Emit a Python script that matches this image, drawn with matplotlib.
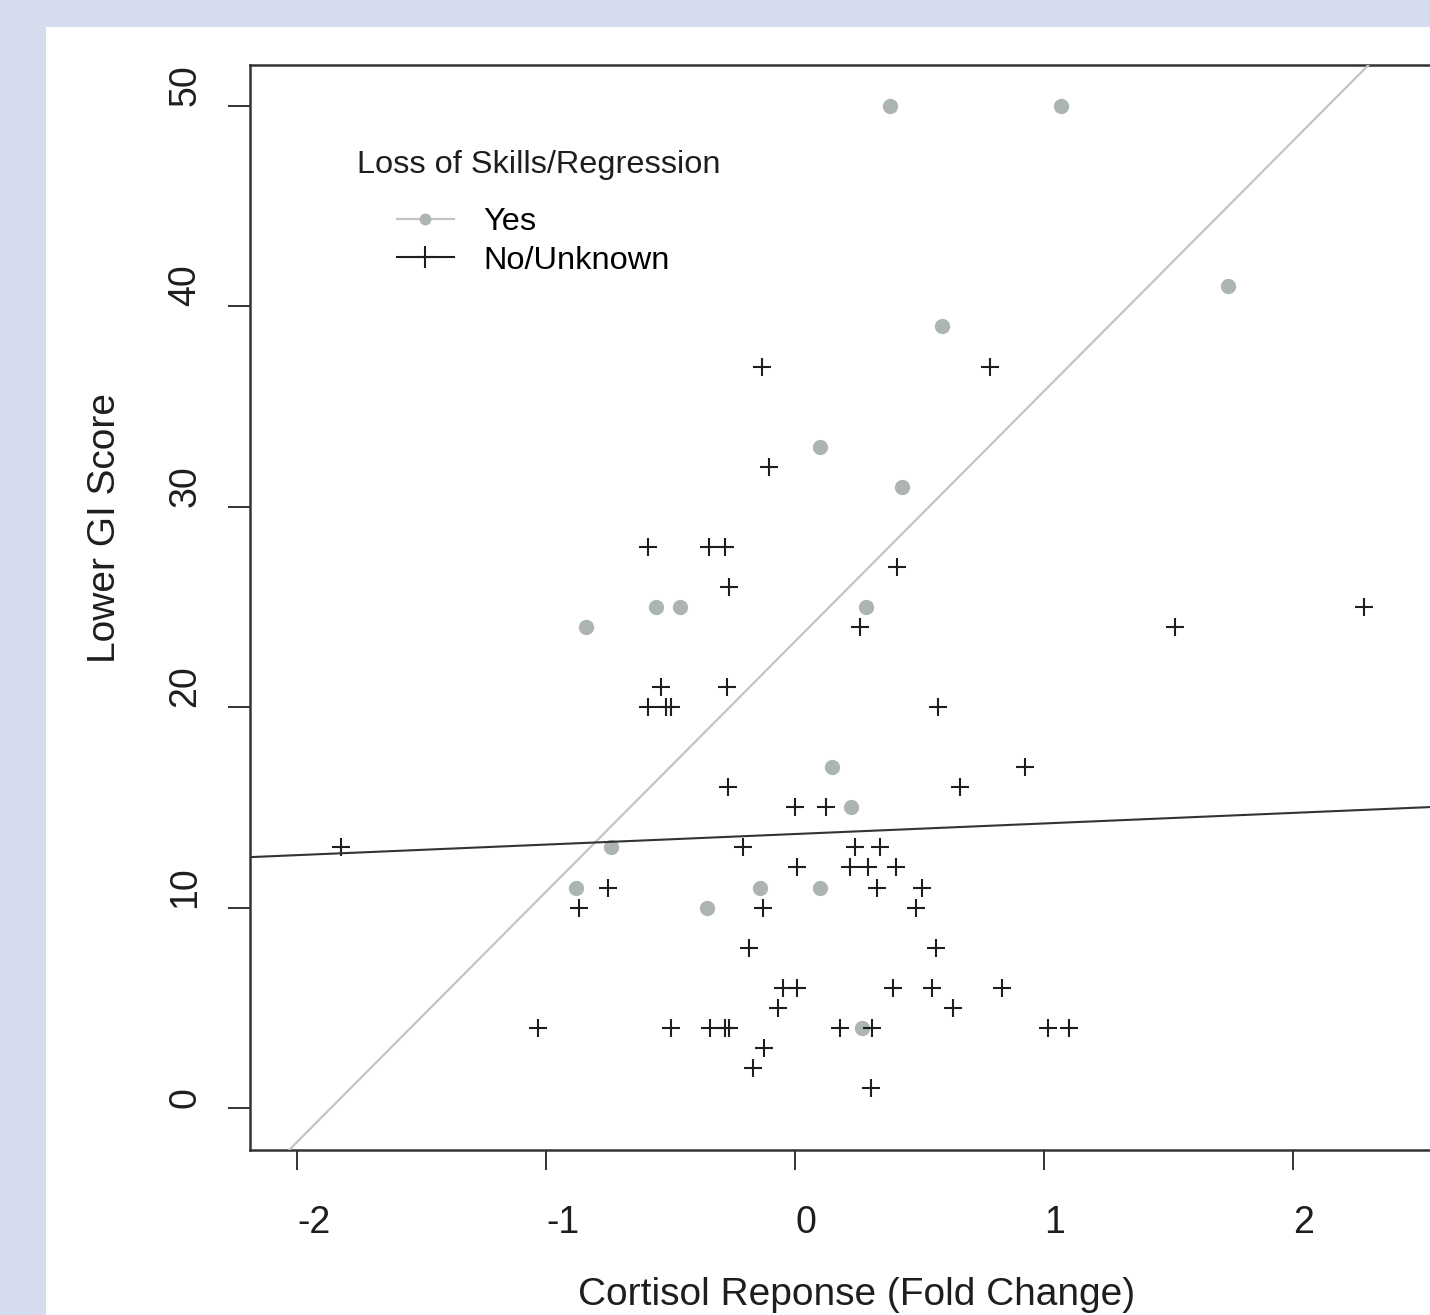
import matplotlib
matplotlib.use('Agg')
import matplotlib.pyplot as plt
from matplotlib.lines import Line2D
from matplotlib.patches import Rectangle

plt.rcParams['font.family'] = ['Liberation Sans', 'DejaVu Sans']
plt.rcParams['axes.unicode_minus'] = False

# Loss of skills / regression = Yes (grey dots)
yes_x = [0.38, 1.07, 1.74, 0.59, 0.10, 0.43, -0.56, -0.46, 0.285, -0.84,
         0.147, 0.226, -0.74, -0.88, -0.14, 0.10, -0.353, 0.27]
yes_y = [50, 50, 41, 39, 33, 31, 25, 25, 25, 24,
         17, 15, 13, 11, 11, 11, 10, 4]

# No / Unknown (black crosses)
no_x = [-0.133, 0.783, -0.104, -0.59, -0.345, -0.28, -0.265, 0.41, 0.26, 1.526,
        2.285, -0.54, -0.275, -0.59, -0.52, -0.50, 0.575, -0.27, 0.0, 0.124,
        0.663, 0.925, -1.823, -0.21, 0.24, 0.341, 0.008, 0.221, 0.292, 0.406,
        -0.751, 0.33, 0.51, -0.867, -0.13, 0.487, -0.185, 0.566, -0.049, 0.008,
        0.393, 0.552, 0.833, -0.069, 0.634, -1.032, -0.50, -0.34, -0.28, -0.265,
        0.181, 0.309, 1.016, 1.102, -0.125, -0.169, 0.304]
no_y = [37, 37, 32, 28, 28, 28, 26, 27, 24, 24,
        25, 21, 21, 20, 20, 20, 20, 16, 15, 15,
        16, 17, 13, 13, 13, 13, 12, 12, 12, 12,
        11, 11, 11, 10, 10, 10, 8, 8, 6, 6,
        6, 6, 6, 5, 5, 4, 4, 4, 4, 4,
        4, 4, 4, 4, 3, 2, 1]

# fitted lines (intercept, slope)
fit_yes = (23.28, 12.49)
fit_no = (13.67, 0.527)

xticks = [-2, -1, 0, 1, 2]
yticks = [0, 10, 20, 30, 40, 50]

grey_dot = '#adb5b3'
grey_line = '#c4c4c4'
ink = '#1e1e1e'

fig = plt.figure(figsize=(14.3, 13.15), dpi=100)
fig.patch.set_facecolor('#d6dcee')
fig.add_artist(Rectangle((46 / 1430, 0), 1, 1 - 27 / 1315, transform=fig.transFigure,
                         facecolor='white', edgecolor='none', zorder=-5))

ax = fig.add_axes([250 / 1430, 165 / 1315, 1214 / 1430, 1085 / 1315])
ax.set_xlim(-2.189, 2.687)
ax.set_ylim(-2.1, 52.05)

ax.plot(yes_x, yes_y, linestyle='none', marker='o', ms=10, color=grey_dot, mec=grey_dot, zorder=3)
ax.plot(no_x, no_y, linestyle='none', marker='+', ms=13.5, mew=1.5, color=ink, zorder=3)

ax.axline((0, fit_yes[0]), slope=fit_yes[1], color=grey_line, lw=1.6, zorder=4)
ax.axline((0, fit_no[0]), slope=fit_no[1], color='#333333', lw=1.5, zorder=4)

for s in ['left', 'top', 'bottom']:
    ax.spines[s].set_color('#333333')
    ax.spines[s].set_linewidth(1.8)
ax.spines['right'].set_visible(False)

ax.set_xticks(xticks)
ax.set_yticks(yticks)
ax.tick_params(axis='x', length=14.5, width=1.4, color='#333333', pad=25,
               labelsize=27, labelcolor=ink)
ax.tick_params(axis='y', length=15.5, width=1.4, color='#333333', pad=18,
               labelsize=27, labelcolor=ink)
for lab in ax.get_xticklabels():
    lab.set_ha('left')
for lab in ax.get_yticklabels():
    lab.set_rotation(90)
    lab.set_va('bottom')

fig.text(105 / 1430, 1 - 528 / 1315, 'Lower GI Score', rotation=90,
         ha='center', va='center', fontsize=28, color=ink)
fig.text(857 / 1430, 10 / 1315, 'Cortisol Reponse (Fold Change)',
         ha='center', va='baseline', fontsize=28, color=ink)

# legend
ax.text((357 - 250) / 1214, (1150 - 165) / 1085, 'Loss of Skills/Regression',
        transform=ax.transAxes, ha='left', va='center', fontsize=23.4, color=ink)
handles = [Line2D([], [], color=grey_line, lw=1.6, marker='o', ms=7.5,
                  mfc=grey_dot, mec=grey_dot),
           Line2D([], [], color=ink, lw=1.5, marker='+', ms=16, mew=1.5)]
ax.legend(handles, ['Yes', 'No/Unknown'], loc='upper left',
          bbox_to_anchor=((397 - 250) / 1214, (1150 - 207) / 1085),
          frameon=False, borderpad=0, borderaxespad=0, handlelength=1.75,
          handletextpad=0.9, labelspacing=0.27, fontsize=23.4)

plt.savefig('out.png', dpi=100, facecolor=fig.get_facecolor())
